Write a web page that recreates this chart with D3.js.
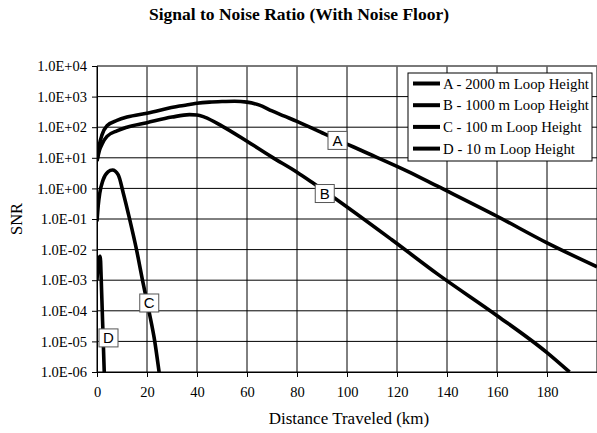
<!DOCTYPE html>
<html>
<head>
<meta charset="utf-8">
<script src="https://cdn.jsdelivr.net/npm/d3@7"></script>
<style>
	body { margin: 0; background: #fff; }
	text { font-family: "Liberation Serif", "Times New Roman", serif; fill: #000; }
</style>
</head>
<body>
<svg width="597" height="433"></svg>
<script>
// distance in km, SNR values
var kmA = [0, 1, 2, 4, 8, 12, 20, 33, 37, 40, 45, 50, 55, 60, 65, 70, 75, 80, 91, 100, 106, 124.5, 136, 160, 180, 200];
var snrA = [7.9, 28, 56, 112, 166, 214, 288, 490, 550, 603, 661, 692, 708, 661, 525, 339, 229, 155, 60.3, 28.2, 17.0, 3.55, 1.2, 0.123, 0.0166, 0.00275];

var kmB = [0, 1, 2, 4, 8, 12, 20, 30, 37, 40, 43, 50.2, 60, 70, 80, 86.7, 117.8, 136.4, 160.2, 180, 189];
var snrB = [7.9, 17.8, 28, 50, 76, 100, 141, 214, 257, 251, 214, 107, 34.7, 10.5, 3.39, 1.45, 0.0214, 0.00155, 6.8e-5, 4.3e-6, 1.0e-6];

var kmC = [0, 0.5, 1.1, 2.4, 4.4, 6.2, 8.5, 10.5, 13.1, 15.8, 18.4, 20.8, 23.1, 24.8, 25.5];
var snrC = [0.083, 0.28, 0.69, 1.86, 3.47, 3.98, 2.75, 0.71, 0.095, 0.01, 8.3e-4, 9.5e-5, 1e-5, 1.05e-6, 4e-7];

var kmD = [0, 0.4, 0.9, 1.3, 1.7, 2.1, 2.5, 2.9, 3.1];
var snrD = [1e-3, 3.2e-3, 5.6e-3, 6e-3, 1e-3, 1e-4, 1e-5, 1e-6, 3.2e-7];

var seriesNames = ["A - 2000 m Loop Height", "B - 1000 m Loop Height", "C - 100 m Loop Height", "D - 10 m Loop Height"];
var seriesTags = ["A", "B", "C", "D"];
// where the letter tags sit on each curve
var tagKm = [96.2, 91.1, 20.9, 4.6];
var tagSnr = [37, 0.68, 1.8e-4, 1.3e-5];

var xTicks = [0, 20, 40, 60, 80, 100, 120, 140, 160, 180];
var yTicks = [1e4, 1e3, 1e2, 1e1, 1e0, 1e-1, 1e-2, 1e-3, 1e-4, 1e-5, 1e-6];

var plotLeft = 97, plotRight = 597, plotTop = 66, plotBottom = 372;

var svg = d3.select("svg");

var x = d3.scaleLinear().domain([0, 200]).range([plotLeft, plotRight]);
var y = d3.scaleLog().domain([1e-6, 1e4]).range([plotBottom, plotTop]);

function fmtE(v) {
	var e = Math.round(Math.log10(v));
	var s = e < 0 ? "-" : "+";
	var a = Math.abs(e);
	return "1.0E" + s + (a < 10 ? "0" : "") + a;
}

// grid
var grid = svg.append("g");
grid.selectAll(".hgrid")
	.data(yTicks)
	.enter().append("line")
	.attr("x1", plotLeft)
	.attr("x2", plotRight)
	.attr("y1", function(d) { return y(d); })
	.attr("y2", function(d) { return y(d); })
	.attr("stroke", "#000")
	.attr("stroke-width", 1);

grid.selectAll(".vgrid")
	.data(xTicks.concat([200]))
	.enter().append("line")
	.attr("x1", function(d) { return x(d); })
	.attr("x2", function(d) { return x(d); })
	.attr("y1", plotTop)
	.attr("y2", plotBottom)
	.attr("stroke", "#000")
	.attr("stroke-width", 1);

grid.append("line")
	.attr("x1", plotLeft).attr("x2", plotRight)
	.attr("y1", plotTop).attr("y2", plotTop)
	.attr("stroke", "#777")
	.attr("stroke-width", 1.5);

// axes
var xAxis = d3.axisBottom(x)
	.tickValues(xTicks)
	.tickSize(5)
	.tickPadding(10);
var gx = svg.append("g")
	.attr("transform", "translate(0," + plotBottom + ")")
	.call(xAxis);
gx.select(".domain").attr("stroke", "#000");
gx.selectAll("text")
	.style("font-family", "Liberation Serif, Times New Roman, serif")
	.style("font-size", "14.5px");

var yAxis = d3.axisLeft(y)
	.tickValues(yTicks)
	.tickFormat(fmtE)
	.tickSize(5)
	.tickPadding(5);
var gy = svg.append("g")
	.attr("transform", "translate(" + plotLeft + ",0)")
	.call(yAxis);
gy.select(".domain").attr("stroke", "#000");
gy.selectAll("text")
	.style("font-family", "Liberation Serif, Times New Roman, serif")
	.style("font-size", "14.5px");

// curves
svg.append("defs").append("clipPath")
	.attr("id", "plotclip")
	.append("rect")
	.attr("x", plotLeft)
	.attr("y", plotTop)
	.attr("width", plotRight - plotLeft)
	.attr("height", plotBottom - plotTop);

var line = d3.line()
	.x(function(d) { return x(d[0]); })
	.y(function(d) { return y(d[1]); })
	.curve(d3.curveMonotoneX);

var series = [d3.zip(kmA, snrA), d3.zip(kmB, snrB), d3.zip(kmC, snrC), d3.zip(kmD, snrD)];

svg.append("g")
	.attr("clip-path", "url(#plotclip)")
	.selectAll("path")
	.data(series)
	.enter().append("path")
	.attr("d", line)
	.attr("fill", "none")
	.attr("stroke", "#000")
	.attr("stroke-width", 3.6)
	.attr("stroke-linejoin", "round");

// letter tags on the curves
var tags = svg.append("g")
	.selectAll("g")
	.data(seriesTags)
	.enter().append("g")
	.attr("transform", function(d, i) { return "translate(" + x(tagKm[i]) + "," + y(tagSnr[i]) + ")"; });

tags.append("rect")
	.attr("x", -9.5)
	.attr("y", -9)
	.attr("width", 19)
	.attr("height", 18)
	.attr("fill", "#fff")
	.attr("stroke", "#555")
	.attr("stroke-width", 1);

tags.append("text")
	.attr("text-anchor", "middle")
	.attr("y", 5.5)
	.style("font-family", "Liberation Sans, Arial, sans-serif")
	.style("font-size", "15px")
	.text(function(d) { return d; });

// legend
var legend = svg.append("g")
	.attr("transform", "translate(408,73)");

legend.append("rect")
	.attr("width", 184)
	.attr("height", 88)
	.attr("fill", "#fff")
	.attr("stroke", "#000")
	.attr("stroke-width", 1);

var items = legend.selectAll(".item")
	.data(seriesNames)
	.enter().append("g")
	.attr("transform", function(d, i) { return "translate(0," + (10.5 + i * 21.7) + ")"; });

items.append("line")
	.attr("x1", 5)
	.attr("x2", 32)
	.attr("stroke", "#000")
	.attr("stroke-width", 4);

items.append("text")
	.attr("x", 35)
	.attr("y", 5)
	.style("font-size", "14.8px")
	.text(function(d) { return d; });

// titles
svg.append("text")
	.attr("x", 299)
	.attr("y", 20)
	.attr("text-anchor", "middle")
	.style("font-weight", "bold")
	.style("font-size", "17.5px")
	.text("Signal to Noise Ratio (With Noise Floor)");

svg.append("text")
	.attr("x", 349)
	.attr("y", 424)
	.attr("text-anchor", "middle")
	.style("font-size", "17px")
	.text("Distance Traveled (km)");

svg.append("text")
	.attr("transform", "translate(21.5,219) rotate(-90)")
	.attr("text-anchor", "middle")
	.style("font-size", "16.5px")
	.text("SNR");
</script>
</body>
</html>
